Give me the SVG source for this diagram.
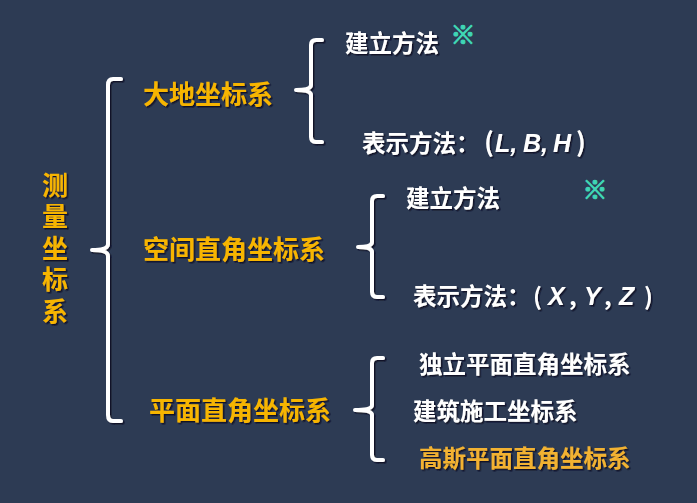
<svg xmlns="http://www.w3.org/2000/svg" width="697" height="503" viewBox="0 0 697 503">
<defs>
<filter id="sh" x="-10%" y="-20%" width="130%" height="150%">
<feDropShadow dx="1.5" dy="1.5" stdDeviation="0.6" flood-color="#0b1020" flood-opacity="0.9"/>
</filter>
<style>
.o{font-family:"Noto Sans CJK SC","Noto Sans",sans-serif;font-weight:700;fill:#f7b500;font-size:26px;filter:url(#sh)}
.v{writing-mode:vertical-rl;letter-spacing:5.5px}
.w{font-family:"Noto Sans CJK SC","Noto Sans",sans-serif;font-weight:700;fill:#ffffff;font-size:23.5px;filter:url(#sh)}
.o2{fill:#f2b230}
.it{font-family:"Liberation Sans",Arial,sans-serif;font-style:italic;font-weight:700;font-size:25px}
.pa{font-size:26px}
.mk{font-family:"Noto Sans CJK SC",sans-serif;font-weight:700;fill:#3fd6b4;stroke:#3fd6b4;stroke-width:1.1;font-size:25px;text-anchor:middle}
.br{fill:none;stroke:#ffffff;stroke-width:4;stroke-linecap:round;stroke-linejoin:round;filter:url(#sh)}
</style>
</defs>
<rect width="697" height="503" fill="#2d3b54"/>
<g id="connectors">
<path class="br" d="M121,79 H113 Q108,79 108,85 V244 Q108,250 92,250 Q108,250 108,256 V415 Q108,421 113,421 H121"/>
<path class="br" d="M322,40 H316 Q311,40 311,45 V85 Q311,90 296,90 Q311,90 311,95 V137 Q311,142 316,142 H322"/>
<path class="br" d="M383,196 H377 Q372,196 372,201 V242 Q372,247 358,247 Q372,247 372,252 V292 Q372,297 377,297 H383"/>
<path class="br" d="M383,358 H377 Q372,358 372,363 V405 Q372,410 355,410 Q372,410 372,415 V455 Q372,460 377,460 H383"/>
</g>
<g id="root">
<text class="o v" x="55" y="172">测量坐标系</text>
</g>
<g id="n-dadi"><text class="o" x="143" y="104">大地坐标系</text></g>
<g id="n-kongjian"><text class="o" x="143" y="259">空间直角坐标系</text></g>
<g id="n-pingmian"><text class="o" x="149" y="420">平面直角坐标系</text></g>
<g id="n-jianli1"><text class="w" x="345" y="52">建立方法</text><text class="mk" x="463" y="44">※</text></g>
<g id="n-biaoshi1"><text class="w" x="362" y="152">表示方法：<tspan class="pa" x="484">(</tspan><tspan class="it" x="495">L,</tspan><tspan class="it" x="523">B,</tspan><tspan class="it" x="553">H</tspan><tspan class="pa" x="576">)</tspan></text></g>
<g id="n-jianli2"><text class="w" x="406" y="207">建立方法</text><text class="mk" x="595" y="199">※</text></g>
<g id="n-biaoshi2"><text class="w" x="413" y="305">表示方法：<tspan x="533">(</tspan><tspan class="it" x="548">X</tspan><tspan x="569">,</tspan><tspan class="it" x="584">Y</tspan><tspan x="604">,</tspan><tspan class="it" x="619">Z</tspan><tspan x="644">)</tspan></text></g>
<g id="n-duli"><text class="w" x="419" y="373">独立平面直角坐标系</text></g>
<g id="n-jianzhu"><text class="w" x="413" y="420">建筑施工坐标系</text></g>
<g id="n-gaosi"><text class="w o2" x="419" y="467">高斯平面直角坐标系</text></g>
</svg>
